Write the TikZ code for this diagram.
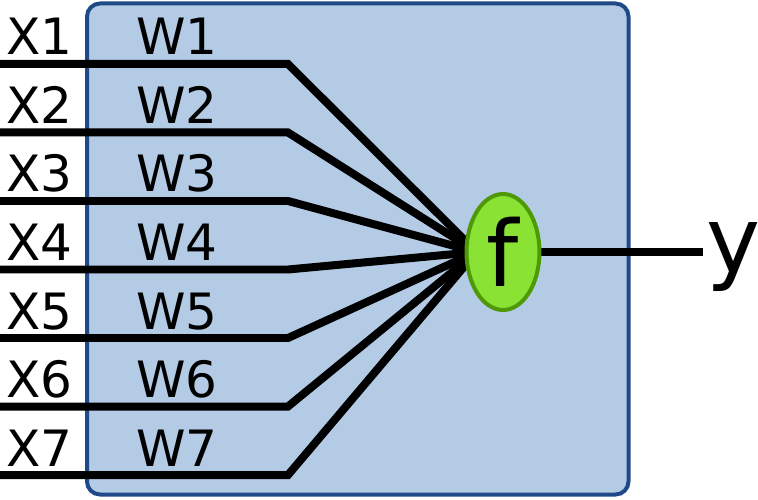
\documentclass[tikz,border=0pt]{standalone}
\usepackage{fontspec}
\setmainfont{DejaVu Sans}
\usetikzlibrary{calc,backgrounds,shapes.geometric}
\definecolor{boxfill}{HTML}{B4CBE6}
\definecolor{boxline}{HTML}{204A87}
\definecolor{nodefill}{HTML}{8AE234}
\definecolor{nodeline}{HTML}{4E9A06}

\begin{document}
\begin{tikzpicture}[x=0.02cm, y=-0.02cm,
		wire/.style = {black, line width=0.16cm},
		small/.style = {anchor=base west, inner sep=0, font=\fontsize{28.5}{34}\selectfont},
		big/.style = {inner sep=0, font=\fontsize{52}{62}\selectfont}]
		\useasboundingbox (0,0) rectangle (758,500);
		\node[ellipse, draw=nodeline, fill=nodefill, line width=0.08cm, minimum width=1.46cm, minimum height=2.32cm, big] (f) at (503,252) {f};
		\node[big, anchor=base west] (y) at (706,273) {y};
		\coordinate (out) at (703,252);
		\foreach \i in {1,...,7}{
			\pgfmathsetmacro\yy{64+68.5*(\i-1)}
			\coordinate (in\i) at (0,\yy);
			\coordinate (bend\i) at (288,\yy);
			\node[small] (x\i) at (6,\yy-9) {X\i};
			\node[small] (w\i) at (136,\yy-9) {W\i};
		}
		\begin{scope}[on background layer]
			\draw[boxline, fill=boxfill, line width=0.08cm, rounded corners=0.26cm] (87,3.5) rectangle (628.5,494.5);
			\foreach \i in {1,...,7}
				\draw[wire] (in\i) -- (bend\i) -- ($(f.west)+(12,0)$);
			\draw[wire] (f.east) -- (out);
		\end{scope}
\end{tikzpicture}
\end{document}
